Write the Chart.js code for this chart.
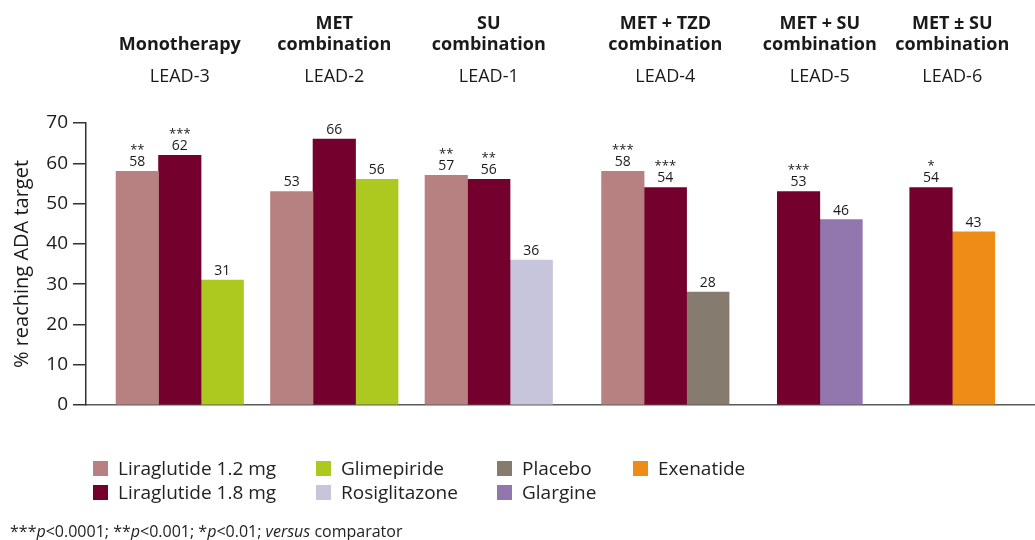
<!DOCTYPE html>
<html><head><meta charset="utf-8">
<script src="https://cdn.jsdelivr.net/npm/chart.js@4/dist/chart.umd.min.js"></script>
<style>
html,body{margin:0;padding:0;background:#fff;}
#wrap{position:relative;width:1035px;height:540px;overflow:hidden;font-family:"Open Sans",sans-serif;color:#222;background:#fff;}
canvas{position:absolute;left:0;top:0;}
#legend{position:absolute;left:93px;top:456px;display:grid;grid-template-rows:24px 24px;grid-auto-flow:column;grid-template-columns:223px 181px 136px 200px;font-size:19px;}
.item{display:flex;align-items:center;white-space:nowrap;}
.sw{width:15px;height:15px;margin-right:10px;flex:none;}
#foot{position:absolute;left:10px;top:522px;font-size:16px;line-height:19px;white-space:nowrap;}
</style></head><body>
<div id="wrap"><canvas id="c" width="1035" height="540"></canvas><div id="legend"></div>
<div id="foot">***<i>p</i>&lt;0.0001; **<i>p</i>&lt;0.001; *<i>p</i>&lt;0.01; <i>versus</i> comparator</div></div>
<script>
// ---- data ----
const groupTitles = [['Monotherapy'], ['MET', 'combination'], ['SU', 'combination'], ['MET + TZD', 'combination'], ['MET + SU', 'combination'], ['MET ± SU', 'combination']];
const trials = ['LEAD-3', 'LEAD-2', 'LEAD-1', 'LEAD-4', 'LEAD-5', 'LEAD-6'];
const seriesNames = ['Liraglutide 1.2 mg', 'Liraglutide 1.8 mg', 'Glimepiride', 'Rosiglitazone', 'Placebo', 'Glargine', 'Exenatide'];
const lira12 = [58, 53, 57, 58, null, null];
const lira18 = [62, 66, 56, 54, 53, 54];
const glimepiride = [31, 56, null, null, null, null];
const rosiglitazone = [null, null, 36, null, null, null];
const placebo = [null, null, null, 28, null, null];
const glargine = [null, null, null, null, 46, null];
const exenatide = [null, null, null, null, null, 43];
const lira12Sig = ['**', '', '**', '***', '', ''];
const lira18Sig = ['***', '', '**', '***', '***', '*'];
const yTicks = [0, 10, 20, 30, 40, 50, 60, 70];
const yTitle = '% reaching ADA target';

// ---- layout (not data) ----
const seriesColors = ['#b88181', '#74002d', '#adc81f', '#c7c5dc', '#857b6e', '#9277ae', '#ee8c18'];
const slotCount = 86;
const groupSlot = [8, 22, 36, 52, 66, 78];

const allSeries = [lira12, lira18, glimepiride, rosiglitazone, placebo, glargine, exenatide];
const sigs = [lira12Sig, lira18Sig];
function toSlots(vals) {
  const a = new Array(slotCount).fill(null);
  groupSlot.forEach((s, g) => { a[s] = vals[g]; });
  return a;
}
const slotLabels = Array.from({length: slotCount}, (_, i) => {
  const g = groupSlot.indexOf(i); return g >= 0 ? trials[g] : '';
});
const FONT = '"Open Sans", sans-serif';

const headerPlugin = {
  id: 'headers',
  afterDraw(chart) {
    const ctx = chart.ctx, xs = chart.scales.x;
    ctx.save();
    ctx.fillStyle = '#1a1a1a';
    ctx.textAlign = 'center';
    ctx.textBaseline = 'alphabetic';
    groupTitles.forEach((lines, g) => {
      const x = xs.getPixelForValue(groupSlot[g]);
      ctx.font = 'bold 18px ' + FONT;
      const n = lines.length;
      lines.forEach((t, k) => {
        const y = 50 - (n - 1 - k) * 21;
        ctx.fillText(t, x, y);
      });
      ctx.font = '18px ' + FONT;
      ctx.fillText(trials[g], x, 82);
    });
    ctx.restore();
  }
};

const valuePlugin = {
  id: 'values',
  afterDatasetsDraw(chart) {
    const ctx = chart.ctx;
    ctx.save();
    ctx.fillStyle = '#1a1a1a';
    ctx.textAlign = 'center';
    ctx.textBaseline = 'alphabetic';
    chart.data.datasets.forEach((ds, di) => {
      const meta = chart.getDatasetMeta(di);
      meta.data.forEach((el, j) => {
        const v = ds.data[j];
        if (v === null || v === undefined) return;
        ctx.font = '14px ' + FONT;
        ctx.fillText(String(v), el.x, el.y - 5);
        const g = groupSlot.indexOf(j);
        const s = sigs[di] ? sigs[di][g] : '';
        if (s) {
          ctx.font = '13px ' + FONT;
          ctx.fillText(s, el.x, el.y - 17);
        }
      });
    });
    ctx.restore();
  }
};

const chart = new Chart(document.getElementById('c'), {
  type: 'bar',
  data: {
    labels: slotLabels,
    datasets: allSeries.map((vals, i) => ({
      label: seriesNames[i],
      data: toSlots(vals),
      backgroundColor: seriesColors[i],
      borderWidth: 0
    }))
  },
  options: {
    responsive: false,
    animation: false,
    devicePixelRatio: 1,
    layout: {padding: {top: 123, right: 0, bottom: 135, left: 0}},
    datasets: {bar: {barThickness: 42.5, skipNull: true, grouped: true}},
    plugins: {legend: {display: false}, tooltip: {enabled: false}},
    scales: {
      x: {
        offset: true,
        ticks: {display: false},
        grid: {display: false, drawTicks: false},
        border: {display: true, color: '#5a5a5a', width: 1.5}
      },
      y: {
        min: 0, max: 70,
        afterBuildTicks(axis) { axis.ticks = yTicks.map(v => ({value: v})); },
        afterFit(axis) { axis.width = 86; },
        ticks: {color: '#1a1a1a', font: {family: FONT, size: 19}, padding: 5},
        grid: {display: true, drawOnChartArea: false, drawTicks: true, tickLength: 13, color: '#333', lineWidth: 1.5},
        border: {display: true, color: '#333', width: 1.5},
        title: {display: true, text: yTitle, color: '#1a1a1a', font: {family: FONT, size: 20}, padding: {top: 10, bottom: 0}}
      }
    }
  },
  plugins: [headerPlugin, valuePlugin]
});

// HTML legend built from the datasets
const leg = document.getElementById('legend');
chart.data.datasets.forEach(ds => {
  const it = document.createElement('div'); it.className = 'item';
  const sw = document.createElement('span'); sw.className = 'sw'; sw.style.background = ds.backgroundColor;
  const tx = document.createElement('span'); tx.textContent = ds.label;
  it.appendChild(sw); it.appendChild(tx); leg.appendChild(it);
});
</script>
</body></html>
